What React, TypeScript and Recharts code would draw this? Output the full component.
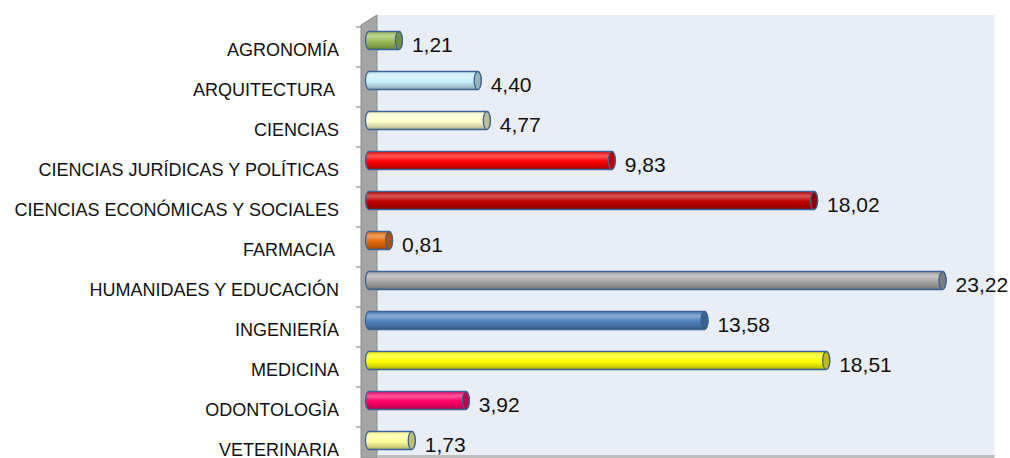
import React from 'react';
import { BarChart, Bar, XAxis, YAxis, LabelList } from 'recharts';

const categories = [
  'AGRONOMÍA',
  'ARQUITECTURA ',
  'CIENCIAS',
  'CIENCIAS JURÍDICAS Y POLÍTICAS',
  'CIENCIAS ECONÓMICAS Y SOCIALES',
  'FARMACIA ',
  'HUMANIDAES Y EDUCACIÓN',
  'INGENIERÍA',
  'MEDICINA',
  'ODONTOLOGÌA',
  'VETERINARIA',
];
const values = [1.21, 4.4, 4.77, 9.83, 18.02, 0.81, 23.22, 13.58, 18.51, 3.92, 1.73];
const colors = [
  '#9BBB59',
  '#C9F0FF',
  '#FFFFCC',
  '#FF0000',
  '#C00000',
  '#E46C0A',
  '#A6A6A6',
  '#4F81BD',
  '#FFFF00',
  '#FF0066',
  '#FFFF99',
];

const data = categories.map((name, i) => ({ name, value: values[i], color: colors[i] }));

const W = 1010;
const H = 458;
const CHART_H = 480;
const MARGIN = { top: 27, right: 23.5, bottom: 13, left: 0 };
const Y_AXIS_W = 369;
const X_MAX = 25;
const DEPTH_X = 8;
const DEPTH_Y = 12;
const BAR_LIFT = 6.5;
const PLOT_W = W - MARGIN.right - Y_AXIS_W;
const PLOT_H = CHART_H - MARGIN.top - MARGIN.bottom;
const BAND = PLOT_H / categories.length;
const FONT = '"Liberation Sans", Arial, sans-serif';

function shade(hex: string, amt: number): string {
  const n = parseInt(hex.slice(1), 16);
  let r = (n >> 16) & 255;
  let g = (n >> 8) & 255;
  let b = n & 255;
  const f = (c: number) =>
    amt >= 0 ? Math.round(c + (255 - c) * amt) : Math.round(c * (1 + amt));
  r = f(r);
  g = f(g);
  b = f(b);
  return `rgb(${r},${g},${b})`;
}

const CylinderBar = (props: any) => {
  const { x, y, width, height, index, payload } = props;
  const color: string = payload.color;
  const yy = y - BAR_LIFT;
  const ry = height / 2;
  const rx = 3.5;
  const x0 = x;
  const x1 = x + Math.max(width, 0);
  const id = `cyl-grad-${index}`;
  const body = `M ${x0} ${yy} L ${x1} ${yy} A ${rx} ${ry} 0 0 1 ${x1} ${yy + height} L ${x0} ${yy + height} A ${rx} ${ry} 0 0 1 ${x0} ${yy} Z`;
  return (
    <g>
      <defs>
        <linearGradient id={id} x1="0" y1="0" x2="0" y2="1">
          <stop offset="0" stopColor={shade(color, -0.05)} />
          <stop offset="0.25" stopColor={shade(color, 0.35)} />
          <stop offset="0.55" stopColor={color} />
          <stop offset="0.85" stopColor={shade(color, -0.18)} />
          <stop offset="1" stopColor={shade(color, -0.35)} />
        </linearGradient>
      </defs>
      <path d={body} fill={`url(#${id})`} stroke="#3B6496" strokeWidth={1.3} />
      <ellipse
        cx={x1}
        cy={yy + ry}
        rx={rx}
        ry={ry}
        fill={shade(color, -0.25)}
        stroke="#3B6496"
        strokeWidth={1.3}
      />
    </g>
  );
};

const CategoryTick = (props: any) => {
  const { y, payload } = props;
  return (
    <g>
      <line
        x1={Y_AXIS_W - 13}
        x2={Y_AXIS_W - 8}
        y1={y - BAND / 2}
        y2={y - BAND / 2}
        stroke="#808080"
        strokeWidth={1}
      />
      <text
        x={Y_AXIS_W - 30}
        y={y + 8.5}
        textAnchor="end"
        fontFamily={FONT}
        fontSize={18}
        fill="#111"
        style={{ whiteSpace: 'pre' }}
      >
        {payload.value}
      </text>
    </g>
  );
};

const ValueLabel = (props: any) => {
  const { x, y, width, height, value } = props;
  return (
    <text
      x={x + width + 13}
      y={y + height / 2 + 4.8}
      fontFamily={FONT}
      fontSize={21}
      fill="#111"
    >
      {Number(value).toFixed(2).replace('.', ',')}
    </text>
  );
};

export default function App() {
  const backLeft = Y_AXIS_W + DEPTH_X;
  const backTop = MARGIN.top - DEPTH_Y;
  const backBottom = MARGIN.top + PLOT_H - DEPTH_Y;
  return (
    <div
      style={{
        position: 'fixed',
        left: 0,
        top: 0,
        width: W,
        height: H,
        overflow: 'hidden',
        background: '#ffffff',
      }}
    >
      <svg width={W} height={H} style={{ position: 'absolute', left: 0, top: 0 }}>
        <rect x={backLeft} y={backTop} width={PLOT_W} height={backBottom - backTop} fill="#E9EDF6" />
        <polygon
          points={`${Y_AXIS_W - 8},${backTop + 10} ${backLeft},${backTop} ${backLeft},${H} ${Y_AXIS_W - 8},${H}`}
          fill="#A5A5A5"
          stroke="#8C8C8C"
          strokeWidth={1}
        />
        <rect x={backLeft} y={backBottom} width={PLOT_W} height={H - backBottom} fill="#BDBDBD" />
      </svg>
      <div style={{ position: 'absolute', left: 0, top: 0 }}>
        <BarChart
          width={W}
          height={CHART_H}
          data={data}
          layout="vertical"
          margin={MARGIN}
          barCategoryGap={0}
        >
          <XAxis type="number" domain={[0, X_MAX]} hide />
          <YAxis
            type="category"
            dataKey="name"
            width={Y_AXIS_W}
            axisLine={false}
            tickLine={false}
            tick={<CategoryTick />}
            interval={0}
          />
          <Bar dataKey="value" barSize={18} shape={<CylinderBar />} isAnimationActive={false}>
            <LabelList dataKey="value" content={<ValueLabel />} />
          </Bar>
        </BarChart>
      </div>
    </div>
  );
}
